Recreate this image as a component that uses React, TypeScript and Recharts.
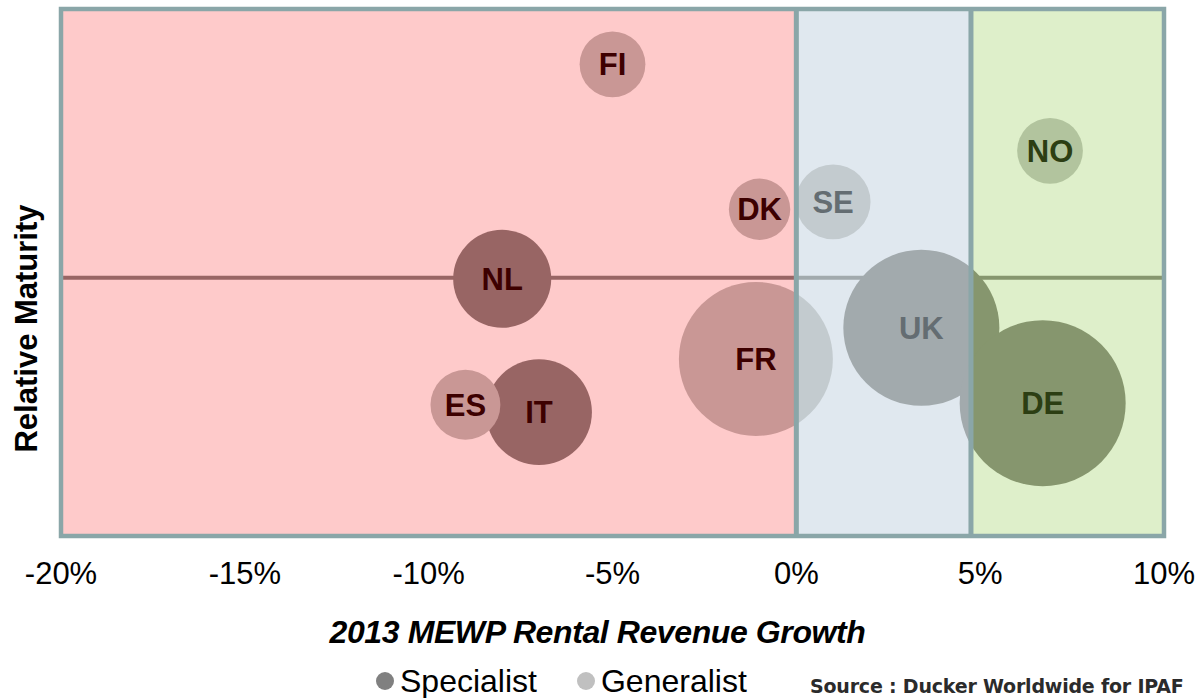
import React from 'react';
import { ScatterChart, Scatter, XAxis, YAxis, ZAxis, ReferenceArea, ReferenceLine, Legend } from 'recharts';

const W = 1196;
const H = 698;
const FONT = '"Liberation Sans", Arial, Helvetica, sans-serif';

// x = 2013 rental revenue growth (%), y = relative maturity (0-100), z = market size index
const specialistNames = ['NL', 'IT', 'UK', 'DE'];
const specialistGrowth = [-8.0, -7.0, 3.4, 6.7];
const specialistMaturity = [48.8, 23.5, 39.5, 25.2];
const specialistSize = [120, 140, 304, 344];

const generalistNames = ['FI', 'DK', 'ES', 'FR', 'SE', 'NO'];
const generalistGrowth = [-5.0, -1.0, -9.0, -1.1, 1.0, 6.9];
const generalistMaturity = [89.5, 62.0, 24.9, 33.6, 63.4, 73.1];
const generalistSize = [54, 47, 61, 296, 70, 54];

const seriesOrder = ['Specialist', 'Generalist'];
const xTicks = [-20, -15, -10, -5, 0, 5, 10];
const zoneBounds = [-20, 0, 4.75, 10];
const midLine = 49;
const sizeMax = 344;

const zones = [
  { id: 'zone-decline', bg: '#FECACA', specialist: '#986564', generalist: '#C99795', label: '#3D0000', line: '#986564' },
  { id: 'zone-slow', bg: '#E0E8EF', specialist: '#A2AAAD', generalist: '#C3CBCF', label: '#646D72', line: '#A2AAAD' },
  { id: 'zone-growth', bg: '#DEEFCA', specialist: '#86966E', generalist: '#B2C49E', label: '#2C3E13', line: '#86966E' },
];

const toPoints = (names: string[], xs: number[], ys: number[], zs: number[]) =>
  names.map((name, i) => ({ name, x: xs[i], y: ys[i], z: zs[i] }));

const specialists = toPoints(specialistNames, specialistGrowth, specialistMaturity, specialistSize);
const generalists = toPoints(generalistNames, generalistGrowth, generalistMaturity, generalistSize);

const zoneOf = (x: number) => (x < zoneBounds[1] ? 0 : x < zoneBounds[2] ? 1 : 2);

const zoneShape = (zone: any) => (props: any) => {
  const { x, y, width, height } = props;
  return (
    <g>
      <defs>
        <clipPath id={zone.id}>
          <rect x={x} y={y} width={width} height={height} />
        </clipPath>
      </defs>
      <rect x={x} y={y} width={width} height={height} fill={zone.bg} />
    </g>
  );
};

const makeBubble = (kind: 'specialist' | 'generalist') => (props: any) => {
  const { cx, cy, width, size, payload } = props;
  const r = width ? width / 2 : Math.sqrt(size / Math.PI);
  const home = zones[zoneOf(payload.x)];
  return (
    <g>
      {zones.map((z: any) => (
        <circle key={z.id} cx={cx} cy={cy} r={r} fill={z[kind]} clipPath={`url(#${z.id})`} />
      ))}
      <text x={cx} y={cy + 11} textAnchor="middle" fontSize={31} fontWeight="bold" fontFamily={FONT} fill={home.label}>
        {payload.name}
      </text>
    </g>
  );
};

const xTitle = (props: any) => {
  const vb = props.viewBox;
  return (
    <text x={vb.x + vb.width / 2 - 15} y={vb.y + 107} textAnchor="middle" fontSize={32} fontWeight="bold"
      fontStyle="italic" fontFamily={FONT} fill="#000" letterSpacing={-0.4}>
      2013 MEWP Rental Revenue Growth
    </text>
  );
};

const yTitle = (props: any) => {
  const vb = props.viewBox;
  const x = 37;
  const y = vb.y + vb.height / 2 + 56;
  return (
    <text x={x} y={y} transform={`rotate(-90, ${x}, ${y})`} textAnchor="middle" fontSize={31} fontWeight="bold"
      fontFamily={FONT} fill="#000">
      Relative Maturity
    </text>
  );
};

const LegendContent = (props: any) => {
  const items = [...(props.payload || [])].sort(
    (a: any, b: any) => seriesOrder.indexOf(a.value) - seriesOrder.indexOf(b.value)
  );
  return (
    <div style={{ position: 'relative', width: W, height: 65, fontFamily: FONT }}>
      <div style={{ position: 'absolute', left: 376, top: 32, display: 'flex', alignItems: 'center' }}>
        {items.map((it: any, i: number) => (
          <div key={i} style={{ display: 'flex', alignItems: 'center', marginRight: 40 }}>
            <span style={{ width: 18, height: 18, borderRadius: 9, background: it.color, marginRight: 6 }} />
            <span style={{ fontSize: 32, lineHeight: '32px', color: '#000' }}>{it.value}</span>
          </div>
        ))}
      </div>
      <div style={{ position: 'absolute', left: 810, top: 44, fontFamily: '"DejaVu Sans", Verdana, sans-serif',
        fontWeight: 'bold', fontSize: 19, lineHeight: '19px', color: '#2b2b2b', letterSpacing: -0.2, whiteSpace: 'nowrap' }}>
        Source : Ducker Worldwide for IPAF
      </div>
    </div>
  );
};

export default function App() {
  return (
    <div style={{ position: 'absolute', left: 0, top: 0, width: W, height: H, background: '#fff' }}>
      <ScatterChart width={W} height={H} margin={{ top: 9, right: 32, bottom: 0, left: 0 }}>
        <XAxis type="number" dataKey="x" domain={[-20, 10]} ticks={xTicks} interval={0} allowDataOverflow
          tickFormatter={(v: number) => `${v}%`} axisLine={false} tickLine={false} tickSize={0} tickMargin={26}
          height={97} tick={{ fontSize: 31, fill: '#000', fontFamily: FONT }} label={xTitle} />
        <YAxis type="number" dataKey="y" domain={[0, 100]} width={61} allowDataOverflow tick={false}
          axisLine={false} tickLine={false} label={yTitle} />
        <ZAxis type="number" dataKey="z" domain={[0, sizeMax]} range={[0, Math.PI * 83 * 83]} />
        {zones.map((z, i) => (
          <ReferenceArea key={z.id} x1={zoneBounds[i]} x2={zoneBounds[i + 1]} y1={0} y2={100}
            shape={zoneShape(z)} zIndex={1} />
        ))}
        {zones.map((z, i) => (
          <ReferenceLine key={z.id + '-mid'} segment={[{ x: zoneBounds[i], y: midLine }, { x: zoneBounds[i + 1], y: midLine }]}
            stroke={z.line} strokeWidth={4} zIndex={2} />
        ))}
        <Scatter name="Specialist" data={specialists} fill="#808080" shape={makeBubble('specialist')}
          isAnimationActive={false} zIndex={600} />
        <Scatter name="Generalist" data={generalists} fill="#C0C0C0" shape={makeBubble('generalist')}
          isAnimationActive={false} zIndex={601} />
        <ReferenceLine x={zoneBounds[1]} stroke="#8AA6A8" strokeWidth={5} zIndex={700} />
        <ReferenceLine x={zoneBounds[2]} stroke="#8AA6A8" strokeWidth={5} zIndex={700} />
        <ReferenceArea x1={-20} x2={10} y1={0} y2={100} fill="none" fillOpacity={0} stroke="#8AA6A8"
          strokeWidth={4.5} zIndex={701} />
        <Legend verticalAlign="bottom" height={65} content={LegendContent}
          wrapperStyle={{ left: 0, bottom: 0, width: W, height: 65 }} />
      </ScatterChart>
    </div>
  );
}
